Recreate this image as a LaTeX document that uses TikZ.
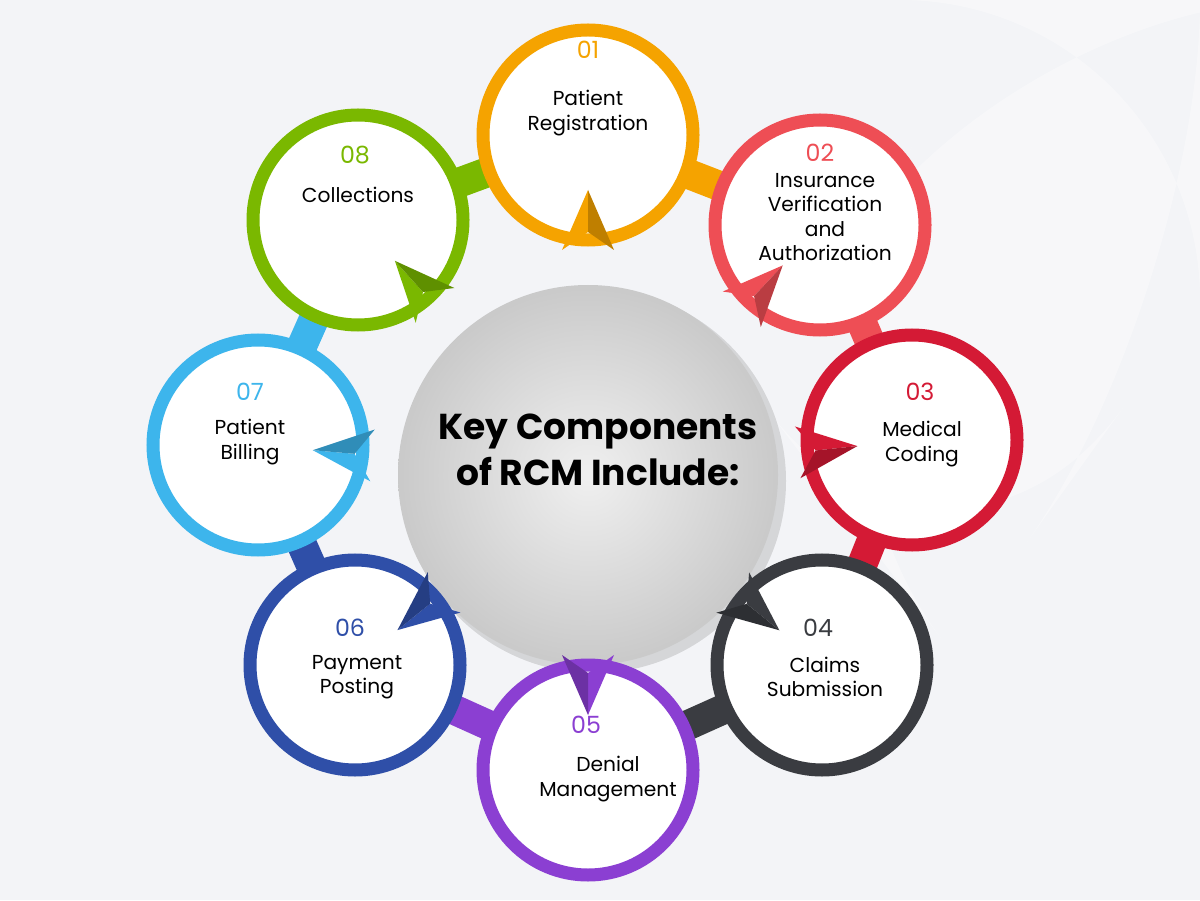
\documentclass[tikz,border=0pt]{standalone}
\usepackage{fontspec}
\setmainfont{Poppins}
\usetikzlibrary{calc}
\definecolor{bg}{HTML}{F3F4F7}
\definecolor{cA}{HTML}{F5A300}
\definecolor{cB}{HTML}{EE4E55}
\definecolor{cC}{HTML}{D41A35}
\definecolor{cD}{HTML}{3A3C41}
\definecolor{cE}{HTML}{8B3FD2}
\definecolor{cF}{HTML}{2F4FA8}
\definecolor{cG}{HTML}{3DB5EC}
\definecolor{cH}{HTML}{7AB800}
\tikzset{
  stage/.style={circle,draw=#1,line width=2.6mm,fill=white,minimum size=42mm,inner sep=0pt},
  band/.style={line width=6mm,draw=#1},
  num/.style={text=#1,font=\fontsize{13.5}{16}\selectfont},
  lbl/.style={align=center,font=\fontsize{11.5}{14}\selectfont,text=black},
}
% arrow head pointing from the hub into a stage
\newcommand\pointer[3]{%
  \path ($(#1)!23mm!(hub)$) coordinate (tmp);
  \fill[#3,shift={(tmp)},rotate=#2] (60,0) -- (0,26) -- (18,0) -- cycle;
  \fill[#3!78!black,shift={(tmp)},rotate=#2] (60,0) -- (18,0) -- (0,-26) -- cycle;
}
\begin{document}
\begin{tikzpicture}[x=0.2mm,y=0.2mm]
  \fill[bg] (0,0) rectangle (1200,900);
  \fill[white,opacity=0.35,rounded corners=60mm] (760,500) -- (1000,900) -- (1200,900) -- (1200,600) -- (950,250) -- cycle;
  \useasboundingbox (0,0) rectangle (1200,900);
  \coordinate (hub) at (588,425);
  \coordinate (p1) at (588,765);
  \coordinate (p2) at (820,675);
  \coordinate (p3) at (912,460);
  \coordinate (p4) at (822,235);
  \coordinate (p5) at (588,130);
  \coordinate (p6) at (355,235);
  \coordinate (p7) at (258,455);
  \coordinate (p8) at (358,680);
  % bands between stages
  \draw[band=cA] (p1) -- (p2);
  \draw[band=cB] (p2) -- (p3);
  \draw[band=cC] (p3) -- (p4);
  \draw[band=cD] (p4) -- (p5);
  \draw[band=cE] (p5) -- (p6);
  \draw[band=cF] (p6) -- (p7);
  \draw[band=cG] (p7) -- (p8);
  \draw[band=cH] (p8) -- (p1);
  % hub
  \fill[black,opacity=0.12] (594,419) circle (192);
  \shade[inner color=gray!12,outer color=gray!42] (hub) circle (190);
  \node[font=\fontsize{20.5}{26}\selectfont\bfseries,align=center] (title) at (598,450) {Key Components\\of RCM Include:};
  % stages
  \node[stage=cA] (s1) at (p1) {};
  \node[stage=cB] (s2) at (p2) {};
  \node[stage=cC] (s3) at (p3) {};
  \node[stage=cD] (s4) at (p4) {};
  \node[stage=cE] (s5) at (p5) {};
  \node[stage=cF] (s6) at (p6) {};
  \node[stage=cG] (s7) at (p7) {};
  \node[stage=cH] (s8) at (p8) {};
  \pointer{s1}{90}{cA}
  \pointer{s2}{47}{cB}
  \pointer{s3}{6}{cC}
  \pointer{s4}{-39}{cD}
  \pointer{s5}{-90}{cE}
  \pointer{s6}{-141}{cF}
  \pointer{s7}{175}{cG}
  \pointer{s8}{132}{cH}
  % numbers and labels
  \node[num=cA] (n1) at (588,850) {01};
  \node[lbl] (l1) at (588,787) {Patient\\Registration};
  \node[num=cB] (n2) at (820,747) {02};
  \node[lbl] (l2) at (825,683) {Insurance\\Verification\\and\\Authorization};
  \node[num=cC] (n3) at (920,508) {03};
  \node[lbl] (l3) at (922,456) {Medical\\Coding};
  \node[num=cD] (n4) at (818,272) {04};
  \node[lbl] (l4) at (825,223) {Claims\\Submission};
  \node[num=cE] (n5) at (586,175) {05};
  \node[lbl] (l5) at (608,121) {Denial\\Management};
  \node[num=cF] (n6) at (350,272) {06};
  \node[lbl] (l6) at (357,223) {Payment\\Posting};
  \node[num=cG] (n7) at (250,508) {07};
  \node[lbl] (l7) at (250,458) {Patient\\Billing};
  \node[num=cH] (n8) at (355,745) {08};
  \node[lbl] (l8) at (358,705) {Collections};
\end{tikzpicture}
\end{document}
